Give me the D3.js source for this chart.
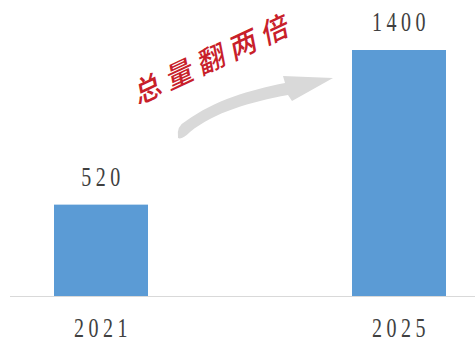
<!DOCTYPE html>
<html><head><meta charset="utf-8">
<script src="https://cdn.jsdelivr.net/npm/d3@7"></script>
<style>html,body{margin:0;padding:0;background:#fff;}svg{display:block;}</style>
</head><body>
<script>
const years = ["2021", "2025"];
const values = [520, 1400];
const valueLabels = ["520", "1400"];
const annotation = "总量翻两倍";

const W = 475, H = 343;
const svg = d3.select("body").append("svg").attr("width", W).attr("height", H);

const x = d3.scalePoint().domain(years).range([101, 399]);
const y = d3.scaleLinear().domain([0, 1400]).range([296, 50]);
const barW = 94;

svg.selectAll("rect.bar").data(values).enter().append("rect")
  .attr("x", (d, i) => x(years[i]) - barW / 2)
  .attr("y", d => y(d))
  .attr("width", barW)
  .attr("height", d => y(0) - y(d))
  .attr("fill", "#5b9bd5");

// axis line
svg.append("line").attr("x1", 10).attr("x2", 475).attr("y1", y(0) + 0.5).attr("y2", y(0) + 0.5)
  .attr("stroke", "#d9d9d9").attr("stroke-width", 1.2);

function numText(g, str, cx, baseline) {
  g.append("text")
    .attr("transform", `translate(${cx},${baseline}) scale(1,1.35)`)
    .attr("text-anchor", "middle")
    .attr("font-family", "'Liberation Serif', 'DejaVu Serif', serif")
    .attr("font-size", 20)
    .attr("letter-spacing", 4.5)
    .attr("fill", "#404040")
    .text(str);
}

values.forEach((v, i) => {
  numText(svg, valueLabels[i], x(years[i]) + 2, y(v) - 19);
  numText(svg, years[i], x(years[i]) + 2, 337);
});

// curved arrow
const arrow = d3.path();
arrow.moveTo(178, 138);
arrow.quadraticCurveTo(176, 126, 186, 121);
arrow.bezierCurveTo(215, 100, 250, 90, 285, 83);
arrow.lineTo(283, 76);
arrow.lineTo(333, 78);
arrow.lineTo(292, 101);
arrow.lineTo(288, 95);
arrow.bezierCurveTo(250, 102, 215, 112, 190, 132);
arrow.quadraticCurveTo(182, 140, 178, 138);
arrow.closePath();
svg.append("path").attr("d", arrow.toString()).attr("fill", "#d9d9d9");

// annotation
svg.append("text")
  .attr("transform", "translate(212,57) rotate(-25)")
  .attr("text-anchor", "middle")
  .attr("dominant-baseline", "central")
  .attr("font-family", "'Noto Sans CJK SC', sans-serif")
  .attr("font-weight", 500)
  .attr("font-style", "italic")
  .attr("font-size", 28)
  .attr("letter-spacing", 7)
  .attr("fill", "#c8202a")
  .text(annotation);
</script>
</body></html>
